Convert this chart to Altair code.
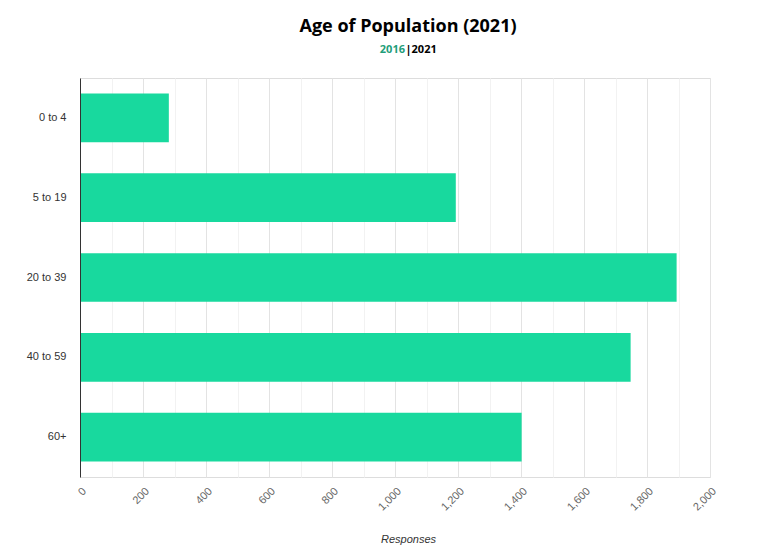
import altair as alt
import pandas as pd

categories = ["0 to 4", "5 to 19", "20 to 39", "40 to 59", "60+"]
values = [282, 1193, 1894, 1748, 1402]
tick_values = list(range(0, 2001, 100))
subtitle_parts = ["2016", "|2021"]
subtitle_colors = ["#1f9e7a", "#000000"]

df = pd.DataFrame({"age": categories, "responses": values})

bars = alt.Chart(df).mark_bar(color="#18d99e").encode(
    x=alt.X(
        "responses:Q",
        scale=alt.Scale(domain=[0, 2000], nice=False),
        axis=alt.Axis(
            values=tick_values,
            labelExpr="datum.value % 200 === 0 ? format(datum.value, ',') : ''",
            labelAngle=-45,
            labelFontSize=11,
            labelFont="Liberation Sans",
            labelColor="#666666",
            labelPadding=8,
            ticks=False,
            domain=False,
            grid=True,
            gridColor={"condition": {"test": "datum.value % 200 === 0", "value": "#e3e3e3"}, "value": "#f2f2f2"},
            title="Responses",
            titleFont="Liberation Sans",
            titleFontSize=11,
            titleFontStyle="italic",
            titleFontWeight="normal",
            titleColor="#333333",
            titleX=328,
            titleY=65,
            titleBaseline="alphabetic",
        ),
    ),
    y=alt.Y(
        "age:N",
        sort=categories,
        scale=alt.Scale(paddingInner=0.39, paddingOuter=0.195),
        axis=alt.Axis(
            title=None,
            labelFontSize=11,
            labelFont="Liberation Sans",
            labelColor="#333333",
            labelPadding=14,
            ticks=False,
            grid=False,
            domainColor="#333333",
            zindex=1,
        ),
    ),
)

sub_df = pd.DataFrame({"t": subtitle_parts})
sub_left = alt.Chart(sub_df.iloc[[0]]).mark_text(
    font="Open Sans", fontSize=11, fontWeight="bold", align="right", baseline="alphabetic", color=subtitle_colors[0]
).encode(text="t:N", x=alt.value(325), y=alt.value(-25))
sub_right = alt.Chart(sub_df.iloc[[1]]).mark_text(
    font="Open Sans", fontSize=11, fontWeight="bold", align="left", baseline="alphabetic", color=subtitle_colors[1]
).encode(text="t:N", x=alt.value(325.5), y=alt.value(-25))

chart = alt.layer(bars, sub_left, sub_right).properties(
    width=630,
    height=399,
    title=alt.TitleParams(
        text="Age of Population (2021)",
        font="Open Sans",
        fontSize=18,
        fontWeight="bold",
        color="#000000",
        anchor="middle",
        dx=13,
        baseline="alphabetic",
        offset=-6,
    ),
    autosize=alt.AutoSizeParams(type="none"),
    padding={"left": 72, "top": 70, "right": 43, "bottom": 70},
).configure_view(stroke=None).configure(background="white")

chart.save("out.html", embed_options={"renderer": "svg", "actions": False})
